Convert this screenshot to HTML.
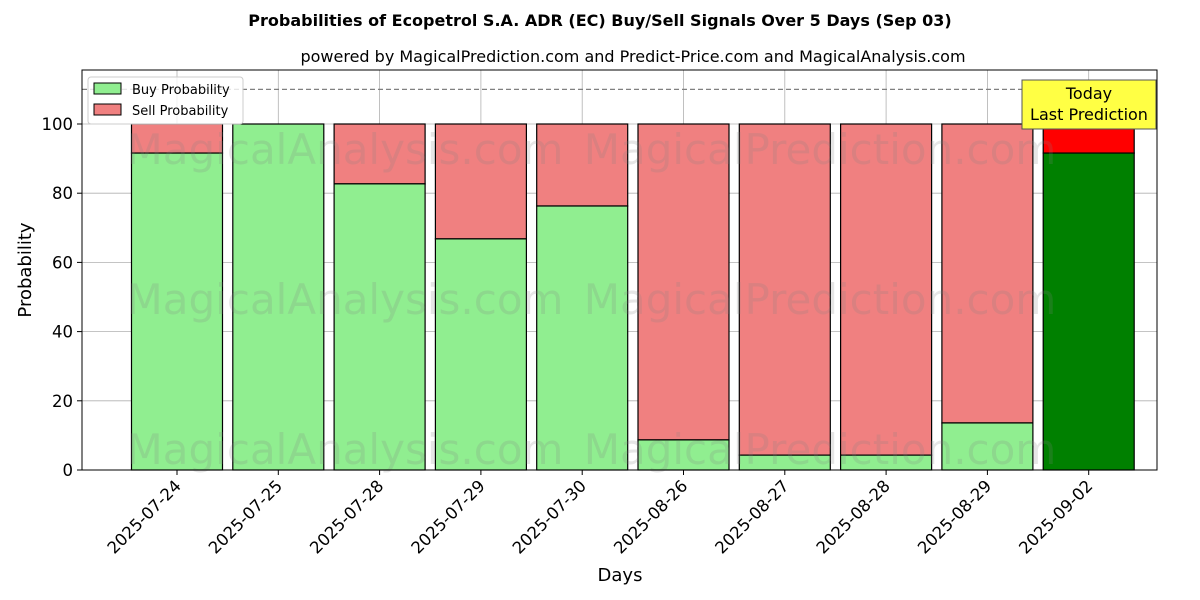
<!DOCTYPE html>
<html><head><meta charset="utf-8"><style>body{margin:0;background:#fff}svg{display:block;font-family:"DejaVu Sans","Liberation Sans",sans-serif}</style></head>
<body>
<svg id="c" width="1200" height="600"></svg>
<script>
const categories=["2025-07-24","2025-07-25","2025-07-28","2025-07-29","2025-07-30","2025-08-26","2025-08-27","2025-08-28","2025-08-29","2025-09-02"];
const buyValues=[91.6,100,82.7,66.8,76.3,8.7,4.3,4.3,13.6,91.6];
const yTicks=[0,20,40,60,80,100];
const NS="http://www.w3.org/2000/svg";
const svg=document.getElementById('c');
const L=82,R=1157,T=70,B=470;
const y=v=>B-v*3.46;
const x=i=>177+i*101.3;
const bw=91;
function el(t,a,txt){const e=document.createElementNS(NS,t);for(const k in a)e.setAttribute(k,a[k]);if(txt!==undefined)e.textContent=txt;svg.appendChild(e);return e;}
let e;
e=el('text',{x:600,y:26,'text-anchor':'middle','font-size':16,'font-weight':'bold'},'Probabilities of Ecopetrol S.A. ADR (EC) Buy/Sell Signals Over 5 Days (Sep 03)');

e=el('text',{x:633,y:62,'text-anchor':'middle','font-size':16},'powered by MagicalPrediction.com and Predict-Price.com and MagicalAnalysis.com');

yTicks.forEach(v=>{
 e=el('line',{x1:L,x2:R,y1:y(v),y2:y(v),stroke:'#b0b0b0','stroke-width':0.8});
 
 e=el('line',{x1:L-5,x2:L,y1:y(v),y2:y(v),stroke:'#000'});
 
 e=el('text',{x:L-9,y:y(v)+6,'text-anchor':'end','font-size':16.5},String(v));
 
});
categories.forEach((c,i)=>{
 e=el('line',{x1:x(i),x2:x(i),y1:T,y2:B,stroke:'#b0b0b0','stroke-width':0.8});
 
});
categories.forEach((c,i)=>{
 const last=i===categories.length-1;
 const b=buyValues[i];
 e=el('rect',{x:x(i)-bw/2,y:y(100),width:bw,height:Math.max(0,y(b)-y(100)),fill:last?'#ff0000':'#f08080',stroke:'#000','stroke-width':1.2});
 
 e=el('rect',{x:x(i)-bw/2,y:y(b),width:bw,height:B-y(b),fill:last?'#008000':'#90ee90',stroke:'#000','stroke-width':1.2});
 
 e=el('line',{x1:x(i),x2:x(i),y1:B,y2:B+5,stroke:'#000'});
 
 e=el('text',{x:x(i)+5,y:B+17,'text-anchor':'end','font-size':16.5,transform:`rotate(-45 ${x(i)+5} ${B+17})`},c);
 
});
[[345,150,'MagicalAnalysis.com'],[820,150,'MagicalPrediction.com'],[345,300,'MagicalAnalysis.com'],[820,300,'MagicalPrediction.com'],[345,450,'MagicalAnalysis.com'],[820,450,'MagicalPrediction.com']].forEach(w=>{
 e=el('text',{x:w[0],y:w[1]+14,'text-anchor':'middle','font-size':42,fill:'rgba(128,128,128,0.2)'},w[2]);
 
});
e=el('line',{x1:L,x2:R,y1:y(110),y2:y(110),stroke:'#808080','stroke-width':1.2,'stroke-dasharray':'5,3'});

e=el('rect',{x:L,y:T,width:R-L,height:B-T,fill:'none',stroke:'#000','stroke-width':1});

e=el('rect',{x:1022,y:80,width:134,height:49,fill:'#ffff44',stroke:'#555'});

e=el('text',{x:1089,y:99,'text-anchor':'middle','font-size':16},'Today');

e=el('text',{x:1089,y:120,'text-anchor':'middle','font-size':16},'Last Prediction');

e=el('text',{x:620,y:581,'text-anchor':'middle','font-size':18},'Days');

e=el('text',{x:31,y:270,'text-anchor':'middle','font-size':18,transform:'rotate(-90 31 270)'},'Probability');

e=el('rect',{x:88,y:77,width:155,height:47,fill:'#fff','fill-opacity':0.8,stroke:'#ccc',rx:3});

e=el('rect',{x:94,y:83,width:27,height:11,fill:'#90ee90',stroke:'#000'});

e=el('text',{x:132,y:94,'font-size':13},'Buy Probability');

e=el('rect',{x:94,y:104,width:27,height:11,fill:'#f08080',stroke:'#000'});

e=el('text',{x:132,y:115,'font-size':13},'Sell Probability');

</script>
</body></html>
